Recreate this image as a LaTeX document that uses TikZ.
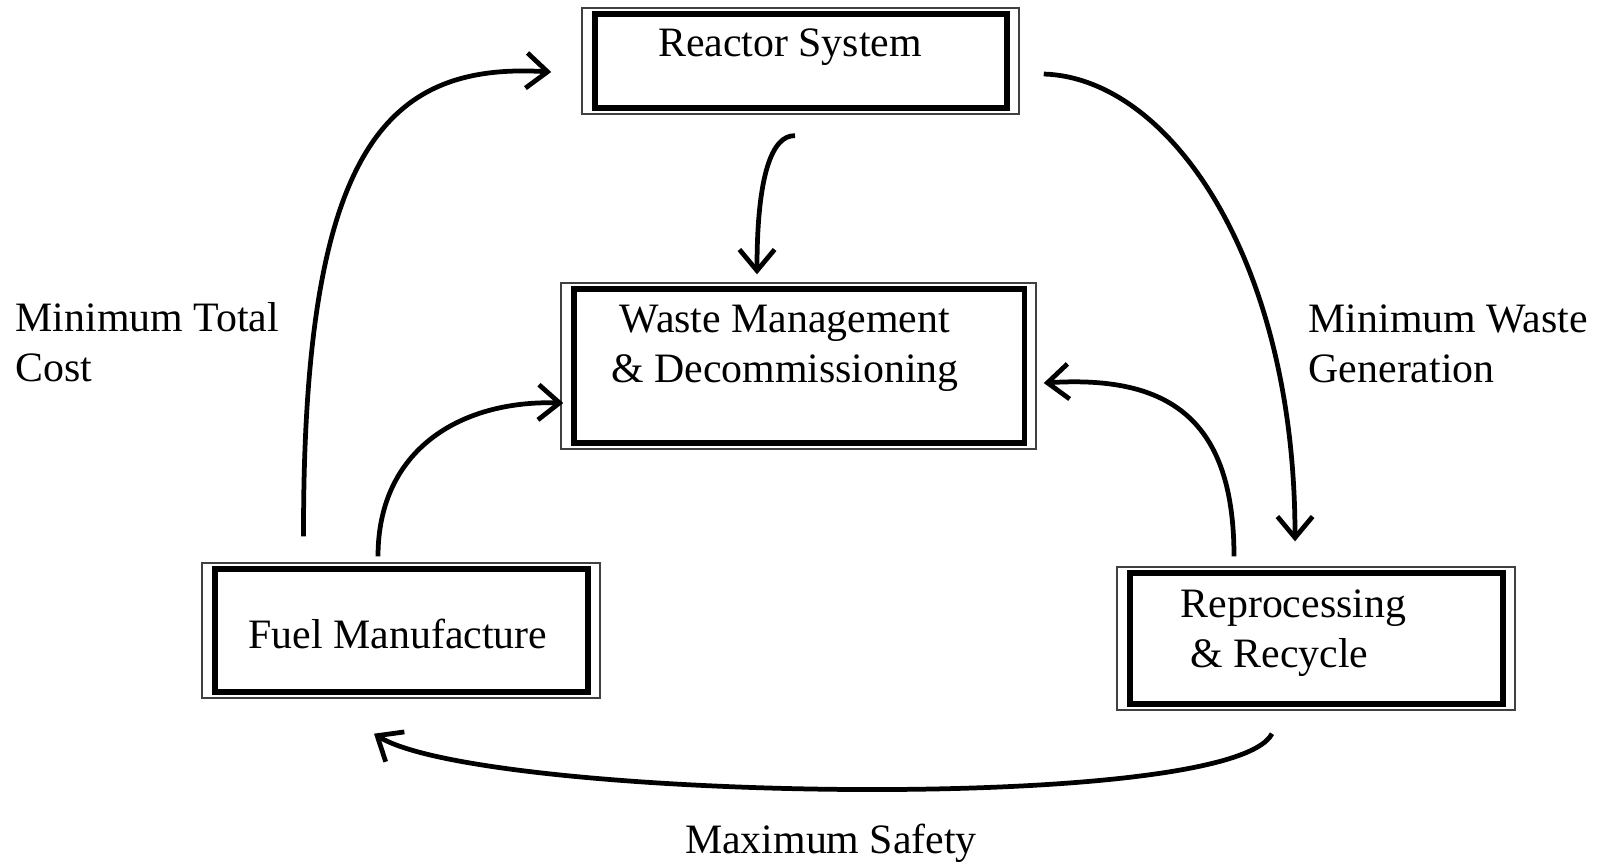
\documentclass[tikz,border=0pt]{standalone}
\usepackage{fontspec}
\setmainfont{Liberation Serif}
\usetikzlibrary{positioning,arrows.meta}

\begin{document}
\begin{tikzpicture}[
    x=0.01cm, y=-0.01cm,
    font=\fontsize{11.9}{14.2}\selectfont,
    box/.style={
        draw,
        line width=1.5pt,
        inner sep=0pt
    },
    frame/.style={
        draw=black!75,
        line width=0.6pt
    },
    txt/.style={
        inner sep=0pt,
        align=left
    },
    flow/.style={
        line width=1.35pt,
        -{Straight Barb[length=6pt,width=10pt,line width=1.35pt]}
    }
]

\useasboundingbox (0,0) rectangle (1609,866);

% boxes
\node[box, minimum width=4.12cm, minimum height=0.94cm] (reactor) at (801,61) {};
\node[box, minimum width=4.50cm, minimum height=1.54cm] (waste) at (799,366) {};
\node[box, minimum width=3.73cm, minimum height=1.23cm] (fuel) at (401.5,630.5) {};
\node[box, minimum width=3.73cm, minimum height=1.31cm] (recycle) at (1316.5,638.5) {};

\foreach \n in {reactor,waste,fuel,recycle}
    \draw[frame] ([shift={(-10,-3)}]\n.north west) rectangle ([shift={(9,3)}]\n.south east);

% box texts
\node[txt] (reactortext) at (790,47) {Reactor System};
\node[txt, align=center] (wastetext) at (785,348) {Waste Management\\\& Decommissioning};
\node[txt] (fueltext) at (398,634) {Fuel Manufacture};
\node[txt, anchor=west] (recycletext) at (1180,633) {Reprocessing\\\hspace{0.1cm}\& Recycle};

% goals
\node[txt, anchor=west] (cost) at (15,342) {Minimum Total\\Cost};
\node[txt, anchor=west] (wastegen) at (1308,344) {Minimum Waste\\Generation};
\node[txt] (safety) at (831,843) {Maximum Safety};

% flows
\draw[flow] ([shift={(-98,-30)}]fuel.north) .. controls (303,150) and (385,62) .. ([shift={(-41,11)}]reactor.west);
\draw[flow] ([shift={(34,13)}]reactor.east) .. controls (1170,78) and (1295,260) .. ([shift={(-21.5,-29)}]recycle.north);
\draw[flow] ([shift={(-6,25)}]reactor.south) .. controls (772,135) and (757,175) .. ([shift={(-42,-12)}]waste.north);
\draw[flow] ([shift={(-23.5,-10)}]fuel.north) .. controls (378,450) and (460,400) .. ([shift={(-8,37)}]waste.west);
\draw[flow] ([shift={(-82.5,-14)}]recycle.north) .. controls (1234,420) and (1170,375) .. ([shift={(17,17)}]waste.east);
\draw[flow] ([shift={(-44.5,27)}]recycle.south) .. controls (1230,815) and (480,800) .. ([shift={(-27.5,39)}]fuel.south);

\end{tikzpicture}
\end{document}
